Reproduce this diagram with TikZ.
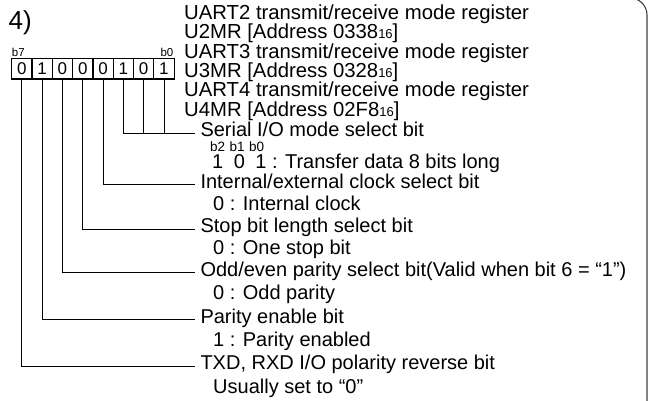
\documentclass[tikz,border=0pt]{standalone}
\usepackage{fontspec}
\setmainfont{Liberation Sans}
\newcommand{\sxvi}{{\fontsize{13}{13}\selectfont 16}}
\begin{document}
\begin{tikzpicture}[x=1pt,y=-1pt,
  lab/.style={anchor=base west, inner sep=0pt, outer xsep=5.5pt, text height=11pt, text depth=3pt, font=\fontsize{20}{22}\selectfont},
  sub/.style={anchor=base west, inner sep=0pt, font=\fontsize{20}{22}\selectfont},
  ttl/.style={anchor=base west, inner sep=0pt, text height=11pt, font=\fontsize{20.3}{22}\selectfont},
  small/.style={inner sep=0pt, font=\fontsize{11.5}{12}\selectfont},
  cell/.style={draw, line width=1.2pt, minimum width=20.3pt, minimum height=20.7pt, inner sep=0pt, font=\fontsize{17}{18}\selectfont},
  lead/.style={line width=0.9pt}]
\clip (0,0) rectangle (649,401);
% frame
\draw[line width=1.1pt, black!75, rounded corners=17pt] (560,-2) -- (647,-2) -- (647,410);
% heading
\node[anchor=base west, inner sep=0pt, font=\fontsize{26}{28}\selectfont] (fig) at (8.5,29.5) {4)};
% titles
\node[ttl] (t1) at (184,19.3) {UART2 transmit/receive mode register};
\node[ttl] (t2) at (184,38.7) {U2MR [Address 0338\sxvi]};
\node[ttl] (t3) at (184,58.1) {UART3 transmit/receive mode register};
\node[ttl] (t4) at (184,77.5) {U3MR [Address 0328\sxvi]};
\node[ttl] (t5) at (184,96.9) {UART4 transmit/receive mode register};
\node[ttl] (t6) at (184,116.3) {U4MR [Address 02F8\sxvi]};
% bit labels
\node[small, anchor=base west] (lb7) at (11.7,56.5) {b7};
\node[small, anchor=base east] (lb0) at (173.5,56.5) {b0};
% cells
\node[cell] (c7) at (21.85,68.65) {0};
\node[cell] (c6) at (42.15,68.65) {1};
\node[cell] (c5) at (62.45,68.65) {0};
\node[cell] (c4) at (82.75,68.65) {0};
\node[cell] (c3) at (103.05,68.65) {0};
\node[cell] (c2) at (123.35,68.65) {1};
\node[cell] (c1) at (143.65,68.65) {0};
\node[cell] (c0) at (163.95,68.65) {1};
% labels
\node[lab] (serial) at (195,137) {Serial I/O mode select bit};
\node[anchor=base west, inner sep=0pt, font=\fontsize{13.5}{14}\selectfont] (bb) at (210,151.3) {b2\hspace{4.5pt}b1\hspace{4.5pt}b0};
\node[sub] (s1) at (212,168.5) {1\hspace{10.5pt}0\hspace{10.5pt}1 : Transfer data 8 bits long};
\node[lab] (clk) at (195,188.5) {Internal/external clock select bit};
\node[sub] (s2) at (213,210.3) {0 : Internal clock};
\node[lab] (stop) at (195,233) {Stop bit length select bit};
\node[sub] (s3) at (213,255) {0 : One stop bit};
\node[lab] (odd) at (195,276.7) {Odd/even parity select bit(Valid when bit 6 = “1”)};
\node[sub] (s4) at (213,300) {0 : Odd parity};
\node[lab] (par) at (195,323.3) {Parity enable bit};
\node[sub] (s5) at (213,346.7) {1 : Parity enabled};
\node[lab] (txd) at (195,370) {TXD, RXD I/O polarity reverse bit};
\node[sub] (s6) at (213,393.3) {Usually set to “0”};
% leaders
\draw[lead] (c0.south) |- (serial.west);
\draw[lead] (c1.south) |- (serial.west);
\draw[lead] (c2.south) |- (serial.west);
\draw[lead] (c3.south) |- (clk.west);
\draw[lead] (c4.south) |- (stop.west);
\draw[lead] (c5.south) |- (odd.west);
\draw[lead] (c6.south) |- (par.west);
\draw[lead] (c7.south) |- (txd.west);
\end{tikzpicture}
\end{document}
